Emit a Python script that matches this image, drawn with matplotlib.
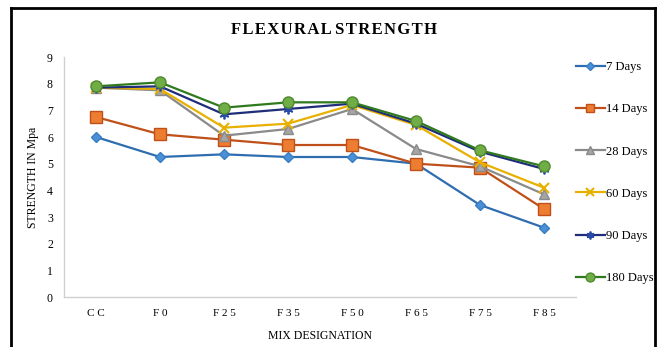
import matplotlib
matplotlib.use("Agg")
import matplotlib.pyplot as plt
from matplotlib.lines import Line2D

categories = ["C C", "F 0", "F 2 5", "F 3 5", "F 5 0", "F 6 5", "F 7 5", "F 8 5"]
series_names = ["7 Days", "14 Days", "28 Days", "60 Days", "90 Days", "180 Days"]
days_7 = [6.0, 5.25, 5.35, 5.25, 5.25, 5.0, 3.45, 2.6]
days_14 = [6.75, 6.1, 5.9, 5.7, 5.7, 5.0, 4.85, 3.3]
days_28 = [7.85, 7.75, 6.05, 6.3, 7.05, 5.55, 4.9, 3.85]
days_60 = [7.85, 7.8, 6.35, 6.5, 7.2, 6.45, 5.05, 4.1]
days_90 = [7.85, 7.9, 6.85, 7.05, 7.25, 6.5, 5.45, 4.8]
days_180 = [7.9, 8.05, 7.1, 7.3, 7.3, 6.6, 5.5, 4.9]
y_ticks = [0, 1, 2, 3, 4, 5, 6, 7, 8, 9]

all_series = [days_7, days_14, days_28, days_60, days_90, days_180]
styles = [
    dict(color="#2E6DB0", marker="D", ms=5, mfc="#4A90D9", mec="#3A7CC0"),
    dict(color="#C0501A", marker="s", ms=8, mfc="#ED7D31", mec="#C0501A"),
    dict(color="#8A8A8A", marker="^", ms=7, mfc="#A5A5A5", mec="#8A8A8A"),
    dict(color="#E8B000", marker="x", ms=7, mfc="#E8B000", mec="#E8B000", mew=1.5),
    dict(color="#1F2D7A", marker=(6, 2, 0), ms=7, mfc="#2A4AA8", mec="#2A4AA8", mew=1.3),
    dict(color="#2F7A1E", marker="o", ms=8, mfc="#70AD47", mec="#4E8A2E"),
]

plt.rcParams["font.family"] = ["Liberation Serif", "DejaVu Serif"]
fig = plt.figure(figsize=(6.58, 3.47), dpi=100)
ax = fig.add_axes([64 / 658, 1 - 297 / 347, (576 - 64) / 658, (297 - 57) / 347])

x = list(range(len(categories)))
for name, vals, st in zip(series_names, all_series, styles):
    ax.plot(x, vals, lw=1.6, label=name, **st)

ax.set_xlim(-0.5, len(categories) - 0.5)
ax.set_ylim(0, 9)
ax.set_yticks(y_ticks)
ax.set_xticks(x)
ax.set_xticklabels(categories, fontsize=8)
ax.tick_params(axis="y", labelsize=8.5, length=0, pad=8)
ax.tick_params(axis="x", length=0, pad=9)
for s in ["top", "right"]:
    ax.spines[s].set_visible(False)
for s in ["left", "bottom"]:
    ax.spines[s].set_color("#D0D0D0")
    ax.spines[s].set_linewidth(1.0)

ax.set_xlabel("MIX DESIGNATION", fontsize=8.5, labelpad=8)
ax.set_ylabel("STRENGTH IN Mpa", fontsize=8.5, labelpad=6)
title = "\u200a".join("FLEXURAL") + " " + "\u200a".join("STRENGTH")
fig.text(334 / 658, 1 - 30 / 347, title, fontsize=12,
         fontweight="bold", ha="center", va="center")

handles = [Line2D([0], [0], lw=1.6, **st) for st in styles]
for st in handles:
    st.set_markersize(st.get_markersize() * 0.8)
leg = fig.legend(handles, series_names, loc="upper left",
                 bbox_to_anchor=(571 / 658, 1 - 56 / 347), frameon=False,
                 fontsize=9, handlelength=2.3, handletextpad=0.1,
                 labelspacing=2.42, borderaxespad=0)

# outer frame
fig.add_artist(Line2D([11 / 658, 11 / 658], [0, 1 - 8 / 347], color="black", lw=2,
                      transform=fig.transFigure))
fig.add_artist(Line2D([11 / 658, 655 / 658], [1 - 8 / 347, 1 - 8 / 347], color="black",
                      lw=2, transform=fig.transFigure))
fig.add_artist(Line2D([655 / 658, 655 / 658], [0, 1 - 8 / 347], color="black", lw=2,
                      transform=fig.transFigure))

fig.savefig("out.png", dpi=100)
